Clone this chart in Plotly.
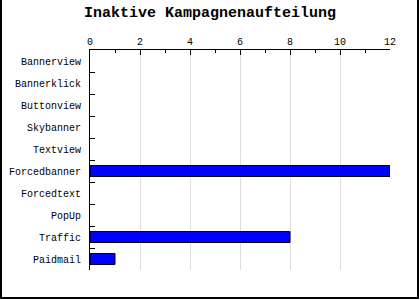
import plotly.graph_objects as go

categories = ["Bannerview", "Bannerklick", "Buttonview", "Skybanner", "Textview",
              "Forcedbanner", "Forcedtext", "PopUp", "Traffic", "Paidmail"]
values = [0, 0, 0, 0, 0, 12, 0, 0, 8, 1]
x_ticks = [0, 2, 4, 6, 8, 10, 12]
title = "Inaktive Kampagnenaufteilung"

W, H = 420, 300
L, R, T, B = 90, 30, 50, 30
pw, ph = W - L - R, H - T - B
FONT = "Liberation Mono"

fig = go.Figure(go.Bar(
    x=values, y=categories, orientation="h",
    marker=dict(color="#0000ff",
                line=dict(color="#000000", width=[1 if v > 0 else 0 for v in values])),
    width=0.5,
))

def px(xp):
    return (xp - L) / pw

def py(yp):
    return (H - B - yp) / ph

# frame: left, right, bottom (no top)
border = dict(color="#000000", width=2)
fig.add_shape(type="line", xref="paper", yref="paper",
              x0=px(1), x1=px(1), y0=py(299), y1=py(0), line=border, layer="above")
fig.add_shape(type="line", xref="paper", yref="paper",
              x0=px(418), x1=px(418), y0=py(299), y1=py(0), line=border, layer="above")
fig.add_shape(type="line", xref="paper", yref="paper",
              x0=px(0), x1=px(419), y0=py(298), y1=py(298), line=border, layer="above")

fig.update_layout(
    width=W, height=H,
    margin=dict(l=L, r=R, t=T, b=B),
    paper_bgcolor="#ffffff", plot_bgcolor="#ffffff",
    title=dict(text="<b>" + title + "</b>", x=0.5, xref="container", xanchor="center",
               y=1 - 12 / H, yref="container", yanchor="middle", automargin=False,
               font=dict(family=FONT, size=15, color="#000000")),
    font=dict(family=FONT, size=10, color="#000000"),
    showlegend=False,
)
fig.update_xaxes(
    side="top", range=[0, 12], tickvals=x_ticks, ticktext=[str(v) for v in x_ticks],
    showline=True, linecolor="#000000", linewidth=1,
    ticks="inside", ticklen=5, tickcolor="#000000",
    minor=dict(dtick=1, ticks="inside", ticklen=3, tickcolor="#000000", showgrid=False),
    showgrid=True, gridcolor="#dddddd", gridwidth=1, zeroline=False,
    tickfont=dict(family=FONT, size=10), automargin=False,
)
fig.update_yaxes(
    categoryorder="array", categoryarray=categories, autorange="reversed",
    showline=True, linecolor="#000000", linewidth=1,
    ticks="inside", tickson="boundaries", ticklen=5, tickcolor="#000000",
    showgrid=False, zeroline=False, ticklabelstandoff=6,
    tickfont=dict(family=FONT, size=10), automargin=False,
)

fig.write_html("out.html")
